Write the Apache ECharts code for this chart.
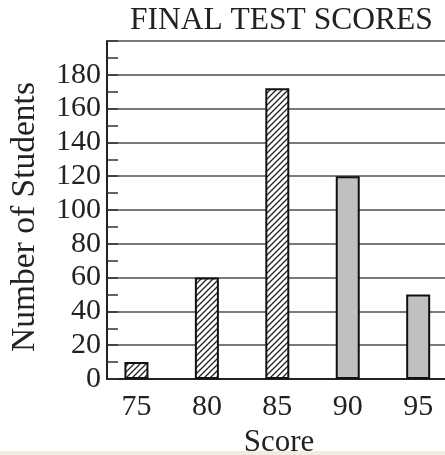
<!DOCTYPE html>
<html>
<head>
<meta charset="utf-8">
<script src="https://cdn.jsdelivr.net/npm/echarts@6/dist/echarts.min.js"></script>
<style>html,body{margin:0;padding:0;background:#fff}#c{width:445px;height:455px}</style>
</head>
<body>
<div id="c"></div>
<script>
const titleText = 'FINAL TEST SCORES';
const xName = 'Score';
const yName = 'Number of Students';
const scores = [75, 80, 85, 90, 95];
const students = [10, 60, 172, 120, 50];
const yTicks = [0, 20, 40, 60, 80, 100, 120, 140, 160, 180];
const hatched = [true, true, true, false, false];

const pc = document.createElement('canvas');
pc.width = 6; pc.height = 6;
const g = pc.getContext('2d');
g.fillStyle = '#fff'; g.fillRect(0, 0, 6, 6);
g.strokeStyle = '#222'; g.lineWidth = 1.3;
g.beginPath();
g.moveTo(-1, 7); g.lineTo(7, -1);
g.moveTo(-4, 4); g.lineTo(4, -4);
g.moveTo(2, 10); g.lineTo(10, 2);
g.stroke();
const hatch = { image: pc, repeat: 'repeat' };

const font = 'Liberation Serif, Times New Roman, serif';
const chart = echarts.init(document.getElementById('c'), null, { renderer: 'canvas' });
chart.setOption({
  backgroundColor: '#fff',
  animation: false,
  title: {
    text: titleText, left: 125, top: 0,
    textStyle: { fontFamily: font, fontSize: 31.5, fontWeight: 'normal', color: '#222' }
  },
  grid: { left: 107, right: -6, top: 41, bottom: 76, containLabel: false, outerBoundsMode: 'none' },
  xAxis: {
    type: 'value', min: 72.91, max: 97.33,
    name: xName, nameLocation: 'middle', nameGap: 47,
    nameTextStyle: { fontFamily: font, fontSize: 31, color: '#222' },
    axisLine: { show: true, lineStyle: { color: '#222', width: 2 } },
    axisTick: { show: false },
    splitLine: { show: false },
    axisLabel: { customValues: scores, fontFamily: font, fontSize: 30, color: '#222', margin: 13 }
  },
  yAxis: {
    type: 'value', min: 0, max: 200, interval: 20,
    name: yName, nameLocation: 'middle', nameGap: 65, nameRotate: 90,
    nameTextStyle: { fontFamily: font, fontSize: 33.5, color: '#222', padding: [0, 14, 0, 0] },
    axisLine: { show: true, lineStyle: { color: '#222', width: 2 } },
    axisTick: { show: true, inside: true, length: 11, lineStyle: { color: '#333', width: 1.5 } },
    minorTick: { show: true, splitNumber: 2, length: 11, lineStyle: { color: '#333', width: 1.5 } },
    splitLine: { show: true, lineStyle: { color: '#7a7a7a', width: 2 } },
    axisLabel: {
      fontFamily: font, fontSize: 30, color: '#222', margin: 6,
      formatter: v => (yTicks.indexOf(v) >= 0 ? String(v) : '')
    }
  },
  series: [{
    type: 'bar',
    barWidth: 24,
    data: scores.map((s, i) => ({
      value: [s, students[i]],
      itemStyle: {
        color: hatched[i] ? hatch : '#c0c0c0',
        borderColor: '#111', borderWidth: 2
      }
    }))
  }],
  graphic: [{
    type: 'rect', left: 0, top: 451, shape: { width: 445, height: 4 },
    style: { fill: '#efeddf' }, silent: true
  }]
});
</script>
</body>
</html>
